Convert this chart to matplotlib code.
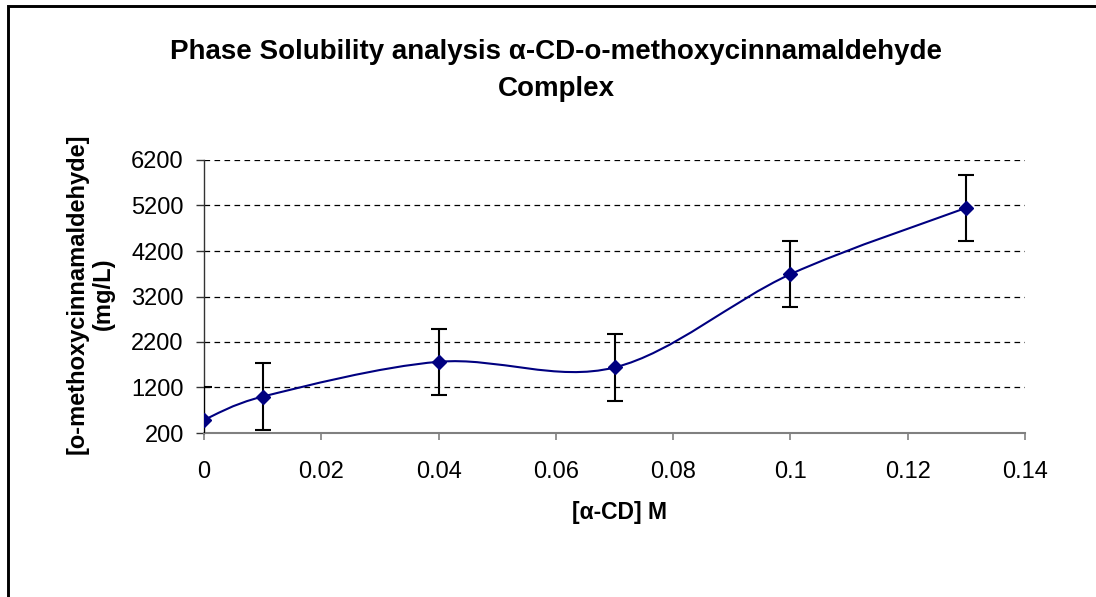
import numpy as np
import matplotlib
matplotlib.use("Agg")
import matplotlib.pyplot as plt
from matplotlib.path import Path
from matplotlib.patches import PathPatch, Rectangle

plt.rcParams['font.family'] = ['Liberation Sans', 'DejaVu Sans']

# ---- data ----
cd_conc = [0.0, 0.01, 0.04, 0.07, 0.10, 0.13]
solubility = [490, 1000, 1765, 1640, 3690, 5150]
error = [730, 730, 730, 730, 730, 730]
x_ticks = [0, 0.02, 0.04, 0.06, 0.08, 0.1, 0.12, 0.14]
x_ticklabels = ["0", "0.02", "0.04", "0.06", "0.08", "0.1", "0.12", "0.14"]
y_ticks = [200, 1200, 2200, 3200, 4200, 5200, 6200]
title_lines = ["Phase Solubility analysis \u03b1-CD-o-methoxycinnamaldehyde", "Complex"]
x_label = "[\u03b1-CD] M"
y_label = "[o-methoxycinnamaldehyde]\n(mg/L)"

W, H = 1096, 597
fig = plt.figure(figsize=(W / 100, H / 100), dpi=100)
ax = fig.add_axes([204 / W, 1 - 433 / H, (1025 - 204) / W, (433 - 160) / H])
ax.set_xlim(0, 0.14)
ax.set_ylim(200, 6200)

navy = '#000080'

# smoothed (Excel-style Bezier) line through the data
fig.canvas.draw()
pts = np.column_stack([cd_conc, solubility]).astype(float)
disp = ax.transData.transform(pts)
n = len(pts)
verts = [pts[0]]
codes = [Path.MOVETO]
for i in range(n - 1):
    p0 = pts[max(i - 1, 0)]; p1 = pts[i]; p2 = pts[i + 1]; p3 = pts[min(i + 2, n - 1)]
    d0 = disp[max(i - 1, 0)]; d1 = disp[i]; d2 = disp[i + 1]; d3 = disp[min(i + 2, n - 1)]
    d12 = np.hypot(*(d2 - d1)); d02 = np.hypot(*(d2 - d0)); d13 = np.hypot(*(d3 - d1))
    f0 = min(1 / 6, 0.5 * d12 / d02) if d02 > 0 else 1 / 6
    f3 = min(1 / 6, 0.5 * d12 / d13) if d13 > 0 else 1 / 6
    b1 = p1 + (p2 - p0) * f0
    b2 = p2 - (p3 - p1) * f3
    verts += [b1, b2, p2]
    codes += [Path.CURVE4] * 3
ax.add_patch(PathPatch(Path(verts, codes), facecolor='none', edgecolor=navy, lw=1.5, zorder=3))

ax.errorbar(cd_conc, solubility, yerr=error, fmt='none', ecolor='black',
            elinewidth=1.5, capsize=6, capthick=1.5, zorder=4)
ax.plot(cd_conc, solubility, linestyle='none', marker='D', markersize=6.8,
        color=navy, zorder=5)

# grid
for yv in y_ticks[1:]:
    ax.axhline(yv, color='black', lw=0.9, dashes=(4.5, 3.5), zorder=1)

for s in ['top', 'right']:
    ax.spines[s].set_visible(False)
ax.spines['left'].set_color('#333333')
ax.spines['bottom'].set_color('#808080')
ax.spines['left'].set_linewidth(1.0)
ax.spines['bottom'].set_linewidth(1.5)

ax.set_xticks(x_ticks)
ax.set_xticklabels(x_ticklabels)
ax.set_yticks(y_ticks)
ax.tick_params(axis='x', direction='out', length=5, width=1.2, color='#808080',
               labelsize=17, pad=15)
ax.tick_params(axis='y', direction='out', length=5.5, width=1.0, color='#333333',
               labelsize=17, pad=9)

ax.set_xlabel(x_label, fontsize=16.5, fontweight='bold')
ax.xaxis.set_label_coords((620 - 204) / 821, -(513 - 433) / 273, transform=ax.transAxes)
ax.xaxis.label.set_va('center')
ax.set_ylabel(y_label, fontsize=17, fontweight='bold', linespacing=1.2)
ax.yaxis.set_label_coords(-(204 - 90) / 821, (433 - 294) / 273, transform=ax.transAxes)
ax.yaxis.label.set_va('center')

fig.text(556 / W, 1 - 59 / H, title_lines[0], ha='center', va='baseline',
         fontsize=20, fontweight='bold')
fig.text(556 / W, 1 - 96 / H, title_lines[1], ha='center', va='baseline',
         fontsize=20, fontweight='bold')

# chart border
fig.add_artist(Rectangle((7.5 / W, -0.2), 1.5, 1.2 - 6 / H, transform=fig.transFigure,
                         fill=False, edgecolor='black', lw=2.1, clip_on=False))

fig.savefig('out.png', dpi=100)
